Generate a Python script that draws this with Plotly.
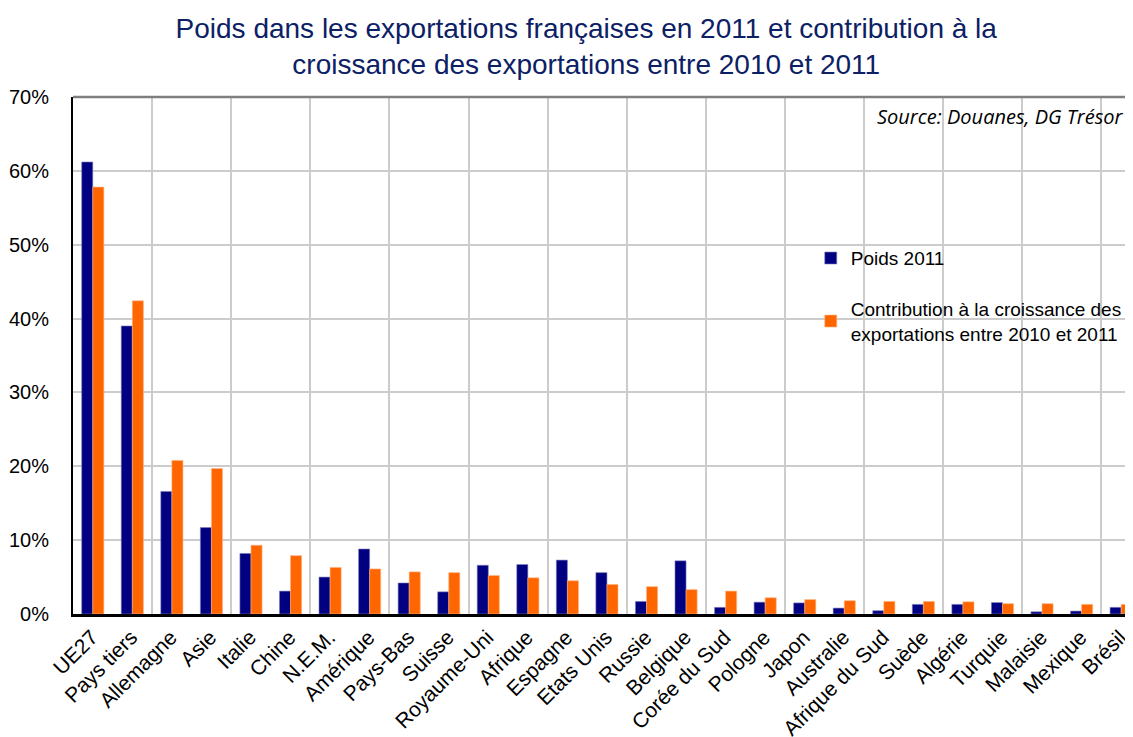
import plotly.graph_objects as go

categories = ["UE27", "Pays tiers", "Allemagne", "Asie", "Italie", "Chine", "N.E.M.",
              "Amérique", "Pays-Bas", "Suisse", "Royaume-Uni", "Afrique", "Espagne",
              "Etats Unis", "Russie", "Belgique", "Corée du Sud", "Pologne", "Japon",
              "Australie", "Afrique du Sud", "Suède", "Algérie", "Turquie", "Malaisie",
              "Mexique", "Brésil"]

poids_2011 = [61.2, 39.0, 16.6, 11.7, 8.2, 3.1, 5.0, 8.8, 4.2, 3.0, 6.6, 6.7, 7.3,
              5.6, 1.7, 7.2, 0.9, 1.6, 1.5, 0.8, 0.45, 1.3, 1.3, 1.55, 0.3, 0.4, 0.9]

contribution = [57.8, 42.4, 20.8, 19.7, 9.3, 7.9, 6.3, 6.1, 5.7, 5.6, 5.2, 4.9, 4.5,
                4.0, 3.7, 3.3, 3.1, 2.2, 1.95, 1.8, 1.7, 1.7, 1.65, 1.4, 1.4, 1.3, 1.3]

y_ticks = [0, 10, 20, 30, 40, 50, 60, 70]
y_tick_labels = ["0%", "10%", "20%", "30%", "40%", "50%", "60%", "70%"]

idx = list(range(len(categories)))
boundaries = [i + 1.5 for i in range(0, len(categories) - 1, 2)]

fig = go.Figure()
fig.add_trace(go.Bar(x=idx, y=poids_2011, name="Poids 2011", legendgroup="a",
                     marker=dict(color="#000080", line=dict(color="#8080C0", width=0.6))))
fig.add_trace(go.Bar(x=idx, y=contribution,
                     name="Contribution à la croissance des<br>exportations entre 2010 et 2011",
                     legendgroup="b",
                     marker=dict(color="#FF6600", line=dict(color="#FFB380", width=0.6))))

# page body has an 8px margin: figure is 1125x729 placed at (8, 8)
fig.update_layout(
    width=1125, height=729,
    margin=dict(l=65, r=0, t=89, b=123, autoexpand=False),
    paper_bgcolor="white", plot_bgcolor="white",
    barmode="group", bargap=0.44, bargroupgap=0,
    font=dict(family="Liberation Sans, Arial, sans-serif", color="black"),
    title=dict(text="Poids dans les exportations françaises en 2011 et contribution à la<br>croissance des exportations entre 2010 et 2011",
               x=0.514, xanchor="center", yref="container", y=0.9595, yanchor="middle",
               font=dict(size=28, color="#0C2065", family="Liberation Sans, Arial, sans-serif")),
    legend=dict(x=0.696, y=0.725, xanchor="left", yanchor="top",
                bgcolor="rgba(0,0,0,0)", font=dict(size=19, color="black"),
                tracegroupgap=23, itemwidth=30, traceorder="grouped"),
    showlegend=True,
)

fig.update_xaxes(
    range=[-0.5, 26.3], automargin=False,
    tickmode="array", tickvals=idx, ticktext=categories,
    tickangle=-45, tickfont=dict(size=21, color="black"),
    showgrid=False, zeroline=False,
    showline=True, linecolor="black", linewidth=2.5,
    ticks="", ticklabelstandoff=0, ticklabelshift=-1,
    minor=dict(tickmode="array", tickvals=boundaries, showgrid=True,
               gridcolor="#CCCCCC", gridwidth=1.5, ticks=""),
)
fig.update_yaxes(
    range=[0, 70], automargin=False,
    tickmode="array", tickvals=y_ticks, ticktext=y_tick_labels,
    tickfont=dict(size=20, color="black"),
    showgrid=True, gridcolor="#CCCCCC", gridwidth=1.5,
    zeroline=False, showline=True, linecolor="black", linewidth=2,
    ticks="", ticklabelstandoff=18,
)

# darker top border at 70%
fig.add_shape(type="line", xref="paper", yref="paper", x0=0, x1=1, y0=1, y1=1,
              line=dict(color="#7F7F7F", width=2.5))

fig.add_annotation(text="<i>Source: Douanes, DG Trésor</i>", xref="paper", yref="paper",
                   x=0.993, y=0.963, xanchor="right", yanchor="middle", showarrow=False,
                   font=dict(size=20, color="black", family="Open Sans, Liberation Sans, sans-serif"))

fig.write_html("out.html")
